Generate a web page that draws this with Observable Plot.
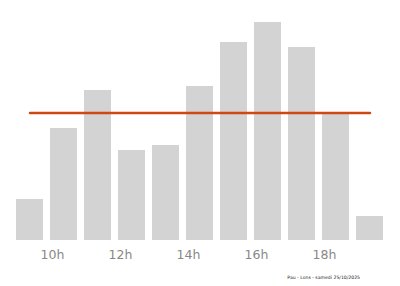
<!DOCTYPE html>
<html><head><meta charset="utf-8">
<script src="https://cdn.jsdelivr.net/npm/d3@7"></script>
<script src="https://cdn.jsdelivr.net/npm/@observablehq/plot@0.6"></script>
<style>
body{margin:0;background:#fff;font-family:"DejaVu Sans",sans-serif;}
#cap{font-size:4.6px;color:#222;text-align:right;width:360px;margin-top:9px;}
</style>
</head><body>
<div id="chart"></div>
<div id="cap">Pau - Lons - samedi 25/10/2025</div>
<script>
const hours = [9,10,11,12,13,14,15,16,17,18,19];
const counts = [41,112,150,90,95,154,198,218,193,127,24];
const tickHours = [10,12,14,16,18];
const data = hours.map((h,i)=>({hour:h,count:counts[i]}));
const meanMap = vals => vals.map(() => d3.mean(vals));
const chart = Plot.plot({
  width:400, height:266,
  marginLeft:8, marginRight:8, marginTop:22, marginBottom:26,
  style:{fontFamily:"DejaVu Sans, sans-serif", background:"#fff"},
  x:{type:"band", domain:hours, padding:0.2, label:null},
  y:{domain:[0,218], axis:null},
  marks:[
    Plot.barY(data,{x:"hour", y:"count", fill:"#d3d3d3"}),
    Plot.lineY(data, Plot.mapY(meanMap, {x:"hour", y:"count", stroke:"#cc4a12", strokeWidth:2.5})),
    Plot.axisX({ticks:tickHours, tickSize:0, tickPadding:10, dx:-11.5, tickFormat:d=>d+"h", fontSize:12.5, fill:"#888", color:"#888", label:null})
  ]
});
document.getElementById("chart").appendChild(chart);
</script>
</body></html>
